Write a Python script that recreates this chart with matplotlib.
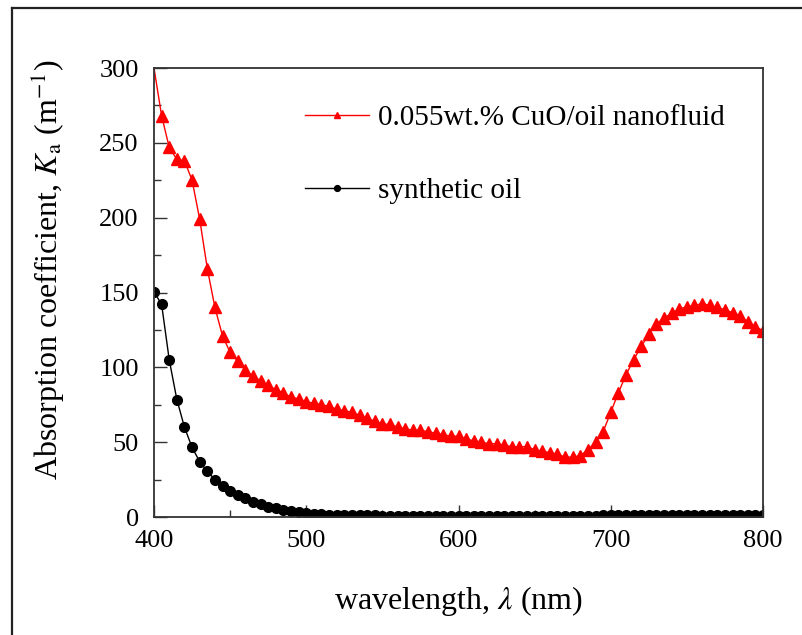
import matplotlib
matplotlib.use("Agg")
import matplotlib.pyplot as plt
from matplotlib.lines import Line2D
from matplotlib.ticker import MultipleLocator

plt.rcParams['font.family'] = ['Liberation Serif', 'DejaVu Serif']
plt.rcParams['mathtext.fontset'] = 'stix'

# wavelength grid, nm (5 nm steps)
wl = list(range(400, 805, 5))

cuo_oil = [300, 268, 247, 239, 238, 225, 199, 166, 140, 121,
           110, 104, 98, 94, 91, 88, 85, 83, 80, 79,
           77, 76, 75, 74, 72, 71, 70, 68, 66, 64,
           62, 62, 60, 59, 58, 58, 57, 56, 55, 54,
           54, 52, 51, 50, 49, 49, 48, 47, 47, 47,
           45, 44, 43, 42, 40, 40, 41, 45, 50, 57,
           70, 83, 95, 105, 114, 122, 129, 133, 136, 139,
           140.5, 141.5, 142.5, 141.5, 140, 138.5, 136.5, 134.5, 130, 127,
           124.5]

synthetic_oil = [150.5, 142, 105, 78.5, 60, 46.5, 37, 30.5, 25, 20.5,
                 17.5, 14.5, 12.5, 10.2, 8.7, 7, 5.8, 4.7, 4, 3.2,
                 2.6, 2.1, 1.8, 1.5, 1.3, 1.2, 1.2, 1.1, 1.1, 1.1,
                 1.0, 1.0, 1.0, 1.0, 1.0, 1.0, 1.0, 1.0, 1.0, 1.0,
                 1.0, 1.0, 1.0, 1.0, 1.0, 1.0, 1.0, 1.0, 1.0, 1.0,
                 1.0, 1.0, 1.0, 1.0, 1.0, 1.0, 1.0, 1.0, 1.0, 1.1,
                 1.1, 1.1, 1.1, 1.1, 1.1, 1.1, 1.1, 1.1, 1.1, 1.1,
                 1.1, 1.1, 1.1, 1.1, 1.1, 1.1, 1.1, 1.1, 1.1, 1.1,
                 1.1]

fig = plt.figure(figsize=(8.03, 6.35), dpi=100)
ax = fig.add_axes([0.1918, 0.1858, 0.7584, 0.7071])

ax.plot(wl, cuo_oil, color='#ff0000', lw=1.0, marker='^', ms=8,
        markevery=list(range(1, len(wl))), label='0.055wt.% CuO/oil nanofluid')
ax.plot(wl, synthetic_oil, color='black', lw=1.0, marker='o', ms=7,
        label='synthetic oil')

ax.set_xlim(400, 800)
ax.set_ylim(0, 300)
ax.xaxis.set_major_locator(MultipleLocator(100))
ax.xaxis.set_minor_locator(MultipleLocator(50))
ax.yaxis.set_major_locator(MultipleLocator(50))
ax.yaxis.set_minor_locator(MultipleLocator(25))
ax.tick_params(which='both', direction='in', colors='#333333', labelcolor='black',
               labelsize=19, width=1.0)
ax.tick_params(which='major', length=9)
ax.tick_params(which='minor', length=5)
ax.tick_params(axis='x', which='major', pad=9)
ax.tick_params(axis='y', which='major', pad=11)
for s in ax.spines.values():
    s.set_color('#333333')
    s.set_linewidth(1.3)

ax.set_xlabel(r'wavelength, $\lambda$ (nm)', fontsize=23)
ax.set_ylabel(r'Absorption coefficient, $K_{\rm a}$ (m$^{-1}$)', fontsize=23)
ax.xaxis.set_label_coords(0.5, -0.149)
ax.yaxis.set_label_coords(-0.143, 0.55)

ax.legend(loc='upper left', bbox_to_anchor=(0.229, 0.945), frameon=False,
          fontsize=21, handlelength=2.2, labelspacing=1.6, markerscale=0.6,
          borderaxespad=0, handletextpad=0.3)

# border of the original picture (top and left edges)
fig.add_artist(Line2D([0.015, 1.0], [0.988, 0.988], color='#222222', lw=1.6))
fig.add_artist(Line2D([0.015, 0.015], [0.0, 0.988], color='#222222', lw=1.6))

fig.savefig('out.png', dpi=100)
